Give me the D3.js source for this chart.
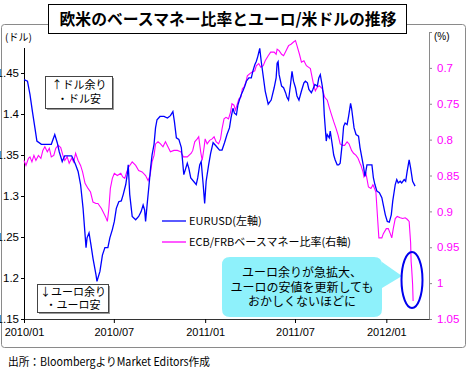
<!DOCTYPE html>
<html>
<head>
<meta charset="utf-8">
<script src="https://cdn.jsdelivr.net/npm/d3@7"></script>
<style>
  html, body { margin: 0; padding: 0; background: #fff; }
  svg { display: block; font-family: "Liberation Sans", "Noto Sans CJK JP", sans-serif; }
  .jp { font-family: "Noto Sans CJK JP", sans-serif; }
</style>
</head>
<body>
<div id="chart"></div>
<script>
(function () {
  const title = "欧米のベースマネー比率とユーロ/米ドルの推移";
  const source = "出所：BloombergよりMarket Editors作成";
  const seriesNames = ["EURUSD(左軸)", "ECB/FRBベースマネー比率(右軸)"];

  // the top ticks (1.5 / 0.65) carry no label in the original: the unit labels sit there
  const leftTicks = [1.15, 1.2, 1.25, 1.3, 1.35, 1.4, 1.45, 1.5];
  const rightTicks = [0.65, 0.7, 0.75, 0.8, 0.85, 0.9, 0.95, 1, 1.05];
  const hiddenTicks = [1.5, 0.65];
  const xTicks = ["2010-01-01", "2010-07-01", "2011-01-01", "2011-07-01", "2012-01-01"];
  const xTickLabels = ["2010/01", "2010/07", "2011/01", "2011/07", "2012/01"];

  // EURUSD, left axis
  const eurusd = [
    ["2010-01-01", 1.442], ["2010-01-08", 1.44], ["2010-01-13", 1.424], ["2010-01-18", 1.403], ["2010-01-23", 1.383],
    ["2010-01-27", 1.367], ["2010-02-05", 1.363], ["2010-02-25", 1.363], ["2010-03-04", 1.375], ["2010-03-09", 1.365],
    ["2010-03-13", 1.354], ["2010-03-19", 1.342], ["2010-03-24", 1.349], ["2010-04-07", 1.349], ["2010-04-11", 1.344],
    ["2010-04-15", 1.338], ["2010-04-20", 1.33], ["2010-04-25", 1.314], ["2010-04-30", 1.285], ["2010-05-06", 1.237],
    ["2010-05-08", 1.249], ["2010-05-12", 1.255], ["2010-05-16", 1.24], ["2010-05-20", 1.224], ["2010-05-26", 1.204],
    ["2010-05-28", 1.196], ["2010-06-03", 1.208], ["2010-06-08", 1.228], ["2010-06-13", 1.237], ["2010-06-19", 1.237],
    ["2010-06-23", 1.249], ["2010-06-28", 1.259], ["2010-07-02", 1.269], ["2010-07-06", 1.285], ["2010-07-11", 1.293],
    ["2010-07-16", 1.294], ["2010-07-20", 1.302], ["2010-07-25", 1.314], ["2010-07-28", 1.326], ["2010-07-30", 1.338],
    ["2010-08-02", 1.302], ["2010-08-07", 1.275], ["2010-08-14", 1.271], ["2010-08-20", 1.275], ["2010-08-25", 1.281],
    ["2010-08-29", 1.289], ["2010-09-01", 1.283], ["2010-09-03", 1.269], ["2010-09-06", 1.289], ["2010-09-10", 1.314],
    ["2010-09-13", 1.334], ["2010-09-16", 1.35], ["2010-09-20", 1.363], ["2010-09-23", 1.383], ["2010-09-26", 1.393],
    ["2010-10-02", 1.397], ["2010-10-10", 1.397], ["2010-10-17", 1.395], ["2010-10-23", 1.398], ["2010-10-28", 1.403],
    ["2010-10-31", 1.391], ["2010-11-04", 1.371], ["2010-11-09", 1.369], ["2010-11-14", 1.359], ["2010-11-16", 1.346],
    ["2010-11-19", 1.326], ["2010-11-23", 1.334], ["2010-11-26", 1.34], ["2010-11-29", 1.334], ["2010-12-03", 1.322],
    ["2010-12-14", 1.314], ["2010-12-17", 1.322], ["2010-12-21", 1.338], ["2010-12-24", 1.342], ["2010-12-28", 1.314],
    ["2010-12-31", 1.291], ["2011-01-03", 1.318], ["2011-01-08", 1.338], ["2011-01-12", 1.352], ["2011-01-17", 1.365],
    ["2011-01-23", 1.361], ["2011-01-30", 1.356], ["2011-02-04", 1.356], ["2011-02-09", 1.365], ["2011-02-14", 1.375],
    ["2011-02-19", 1.383], ["2011-02-22", 1.395], ["2011-02-26", 1.407], ["2011-03-01", 1.401], ["2011-03-05", 1.399],
    ["2011-03-08", 1.411], ["2011-03-11", 1.417], ["2011-03-15", 1.424], ["2011-03-18", 1.428], ["2011-03-22", 1.434],
    ["2011-03-25", 1.44], ["2011-03-30", 1.444], ["2011-04-04", 1.444], ["2011-04-07", 1.452], ["2011-04-11", 1.46],
    ["2011-04-14", 1.464], ["2011-04-17", 1.47], ["2011-04-21", 1.48], ["2011-04-24", 1.464], ["2011-04-28", 1.446],
    ["2011-05-02", 1.428], ["2011-05-08", 1.412], ["2011-05-14", 1.417], ["2011-05-20", 1.432], ["2011-05-24", 1.444],
    ["2011-05-26", 1.462], ["2011-05-28", 1.464], ["2011-05-30", 1.448], ["2011-06-04", 1.434], ["2011-06-08", 1.432],
    ["2011-06-12", 1.426], ["2011-06-15", 1.42], ["2011-06-18", 1.417], ["2011-06-22", 1.436], ["2011-06-25", 1.452],
    ["2011-06-28", 1.44], ["2011-07-02", 1.432], ["2011-07-05", 1.422], ["2011-07-09", 1.417], ["2011-07-14", 1.428],
    ["2011-07-19", 1.438], ["2011-07-22", 1.44], ["2011-07-26", 1.438], ["2011-07-29", 1.43], ["2011-08-03", 1.426],
    ["2011-08-06", 1.43], ["2011-08-10", 1.436], ["2011-08-15", 1.434], ["2011-08-18", 1.444], ["2011-08-21", 1.448],
    ["2011-08-25", 1.434], ["2011-08-27", 1.424], ["2011-08-29", 1.399], ["2011-08-31", 1.383], ["2011-09-02", 1.367],
    ["2011-09-04", 1.375], ["2011-09-08", 1.371], ["2011-09-10", 1.379], ["2011-09-14", 1.363], ["2011-09-17", 1.35],
    ["2011-09-20", 1.344], ["2011-09-24", 1.338], ["2011-09-27", 1.338], ["2011-09-30", 1.34], ["2011-10-04", 1.363],
    ["2011-10-07", 1.385], ["2011-10-10", 1.389], ["2011-10-14", 1.387], ["2011-10-17", 1.397], ["2011-10-21", 1.413],
    ["2011-10-23", 1.407], ["2011-10-28", 1.383], ["2011-11-01", 1.375], ["2011-11-06", 1.373], ["2011-11-09", 1.359],
    ["2011-11-13", 1.346], ["2011-11-16", 1.336], ["2011-11-19", 1.324], ["2011-11-23", 1.338], ["2011-11-28", 1.338],
    ["2011-12-03", 1.338], ["2011-12-06", 1.322], ["2011-12-09", 1.314], ["2011-12-13", 1.306], ["2011-12-18", 1.304],
    ["2011-12-23", 1.298], ["2011-12-26", 1.289], ["2011-12-30", 1.277], ["2012-01-03", 1.269], ["2012-01-07", 1.268],
    ["2012-01-11", 1.277], ["2012-01-14", 1.294], ["2012-01-19", 1.314], ["2012-01-22", 1.32], ["2012-01-25", 1.316],
    ["2012-01-29", 1.318], ["2012-02-01", 1.316], ["2012-02-06", 1.32], ["2012-02-09", 1.318], ["2012-02-12", 1.33],
    ["2012-02-16", 1.344], ["2012-02-19", 1.334], ["2012-02-23", 1.318], ["2012-02-28", 1.312]
  ];

  // ECB/FRB base money ratio, right axis (reversed)
  const baseRatio = [
    ["2010-01-01", 0.829], ["2010-01-05", 0.836], ["2010-01-10", 0.826], ["2010-01-13", 0.824], ["2010-01-17", 0.831],
    ["2010-01-21", 0.822], ["2010-01-25", 0.829], ["2010-01-30", 0.822], ["2010-02-04", 0.826], ["2010-02-08", 0.815],
    ["2010-02-12", 0.81], ["2010-02-17", 0.817], ["2010-02-21", 0.812], ["2010-02-25", 0.824], ["2010-03-02", 0.822],
    ["2010-03-06", 0.812], ["2010-03-11", 0.808], ["2010-03-16", 0.811], ["2010-03-20", 0.821], ["2010-03-24", 0.829],
    ["2010-03-29", 0.824], ["2010-04-02", 0.833], ["2010-04-07", 0.826], ["2010-04-11", 0.831], ["2010-04-15", 0.819],
    ["2010-04-20", 0.829], ["2010-04-25", 0.836], ["2010-04-29", 0.845], ["2010-05-04", 0.861], ["2010-05-10", 0.868],
    ["2010-05-15", 0.873], ["2010-05-20", 0.887], ["2010-05-26", 0.889], ["2010-05-30", 0.889], ["2010-06-06", 0.896],
    ["2010-06-11", 0.903], ["2010-06-14", 0.907], ["2010-06-18", 0.914], ["2010-06-21", 0.896], ["2010-06-24", 0.868],
    ["2010-06-28", 0.854], ["2010-07-02", 0.847], ["2010-07-08", 0.85], ["2010-07-15", 0.847], ["2010-07-19", 0.852],
    ["2010-07-23", 0.854], ["2010-07-27", 0.845], ["2010-07-31", 0.838], ["2010-08-07", 0.831], ["2010-08-14", 0.836],
    ["2010-08-20", 0.843], ["2010-08-27", 0.845], ["2010-09-03", 0.85], ["2010-09-08", 0.857], ["2010-09-12", 0.85],
    ["2010-09-16", 0.831], ["2010-09-20", 0.822], ["2010-09-23", 0.806], ["2010-09-28", 0.803], ["2010-10-03", 0.806],
    ["2010-10-08", 0.81], ["2010-10-13", 0.803], ["2010-10-18", 0.81], ["2010-10-23", 0.817], ["2010-10-30", 0.815],
    ["2010-11-06", 0.815], ["2010-11-13", 0.817], ["2010-11-18", 0.824], ["2010-11-26", 0.824], ["2010-12-04", 0.819],
    ["2010-12-07", 0.815], ["2010-12-11", 0.803], ["2010-12-16", 0.799], ["2010-12-19", 0.796], ["2010-12-23", 0.817],
    ["2010-12-26", 0.829], ["2010-12-30", 0.81], ["2011-01-01", 0.799], ["2011-01-05", 0.806], ["2011-01-10", 0.801],
    ["2011-01-15", 0.799], ["2011-01-19", 0.796], ["2011-01-23", 0.803], ["2011-01-28", 0.806], ["2011-02-01", 0.799],
    ["2011-02-04", 0.785], ["2011-02-08", 0.771], ["2011-02-12", 0.769], ["2011-02-17", 0.771], ["2011-02-21", 0.762],
    ["2011-02-24", 0.75], ["2011-02-28", 0.752], ["2011-03-03", 0.759], ["2011-03-07", 0.75], ["2011-03-10", 0.743],
    ["2011-03-14", 0.741], ["2011-03-17", 0.729], ["2011-03-20", 0.727], ["2011-03-24", 0.72], ["2011-03-27", 0.711],
    ["2011-04-01", 0.708], ["2011-04-05", 0.706], ["2011-04-11", 0.704], ["2011-04-14", 0.697], ["2011-04-19", 0.694],
    ["2011-04-23", 0.699], ["2011-04-28", 0.697], ["2011-05-02", 0.69], ["2011-05-08", 0.683], ["2011-05-13", 0.678],
    ["2011-05-20", 0.678], ["2011-05-24", 0.681], ["2011-05-26", 0.674], ["2011-05-30", 0.676], ["2011-06-04", 0.681],
    ["2011-06-08", 0.683], ["2011-06-13", 0.676], ["2011-06-18", 0.669], ["2011-06-23", 0.667], ["2011-06-28", 0.664],
    ["2011-07-02", 0.662], ["2011-07-05", 0.669], ["2011-07-10", 0.681], ["2011-07-14", 0.692], ["2011-07-19", 0.69],
    ["2011-07-24", 0.697], ["2011-07-28", 0.699], ["2011-08-01", 0.701], ["2011-08-05", 0.715], ["2011-08-08", 0.725],
    ["2011-08-11", 0.732], ["2011-08-15", 0.727], ["2011-08-19", 0.725], ["2011-08-25", 0.729], ["2011-08-30", 0.741],
    ["2011-09-04", 0.745], ["2011-09-08", 0.755], ["2011-09-12", 0.764], ["2011-09-17", 0.775], ["2011-09-22", 0.785],
    ["2011-09-26", 0.794], ["2011-09-30", 0.806], ["2011-10-05", 0.808], ["2011-10-09", 0.808], ["2011-10-14", 0.803],
    ["2011-10-18", 0.806], ["2011-10-23", 0.815], ["2011-10-27", 0.819], ["2011-11-01", 0.822], ["2011-11-05", 0.826],
    ["2011-11-09", 0.833], ["2011-11-11", 0.836], ["2011-11-15", 0.845], ["2011-11-17", 0.852], ["2011-11-21", 0.847],
    ["2011-11-26", 0.866], ["2011-12-01", 0.868], ["2011-12-05", 0.863], ["2011-12-07", 0.866], ["2011-12-11", 0.873],
    ["2011-12-14", 0.905], ["2011-12-17", 0.937], ["2011-12-23", 0.937], ["2011-12-26", 0.931], ["2012-01-01", 0.924],
    ["2012-01-05", 0.924], ["2012-01-09", 0.931], ["2012-01-12", 0.937], ["2012-01-15", 0.924], ["2012-01-19", 0.91],
    ["2012-01-23", 0.907], ["2012-01-29", 0.909], ["2012-02-03", 0.91], ["2012-02-08", 0.909], ["2012-02-12", 0.911],
    ["2012-02-16", 0.914], ["2012-02-19", 0.944], ["2012-02-20", 0.97], ["2012-02-21", 0.979], ["2012-02-23", 1.002],
    ["2012-02-24", 1.025]
  ];

  const upNote = ["↑ドル余り", "・ドル安"];
  const downNote = ["↓ユーロ余り", "・ユーロ安"];
  const calloutLines = ["ユーロ余りが急拡大、", "ユーロの安値を更新しても", "おかしくないほどに"];

  const width = 472;
  const height = 372;
  const plot = { left: 24, right: 429, top: 32, bottom: 319 };
  const parseDate = d3.timeParse("%Y-%m-%d");
  const fmt = (value) => hiddenTicks.includes(value) ? "" : String(+value.toFixed(2));

  const x = d3.scaleTime()
    .domain([parseDate("2010-01-01"), parseDate("2012-03-27")])
    .range([plot.left, plot.right]);
  const yLeft = d3.scaleLinear().domain([1.15, 1.5]).range([plot.bottom, plot.top]);
  const yRight = d3.scaleLinear().domain([0.65, 1.05]).range([plot.top, plot.bottom]);

  const svg = d3.select("#chart")
    .append("svg")
    .attr("width", width)
    .attr("height", height);

  // outer chart frame
  svg.append("rect")
    .attr("x", 1.5).attr("y", 24.5)
    .attr("width", 464).attr("height", 323)
    .attr("rx", 3)
    .attr("fill", "#fff")
    .attr("stroke", "#8a8a8a");

  // axes
  const leftAxis = svg.append("g")
    .attr("transform", `translate(${plot.left},0)`)
    .call(d3.axisLeft(yLeft).tickValues(leftTicks).tickFormat(fmt).tickSize(3).tickPadding(2));
  leftAxis.select(".domain").attr("stroke", "#000");
  leftAxis.selectAll("text").attr("font-size", 11.5).attr("fill", "#000");

  const rightAxis = svg.append("g")
    .attr("transform", `translate(${plot.right},0)`)
    .call(d3.axisRight(yRight).tickValues(rightTicks).tickFormat(fmt).tickSize(3).tickPadding(5));
  rightAxis.selectAll(".domain, line").attr("stroke", "#8a8a8a");
  rightAxis.selectAll("text").attr("font-size", 11.5).attr("fill", "#ff00ff");

  svg.selectAll(".tick text").filter(function () { return this.textContent === ""; }).remove();

  const bottomAxis = svg.append("g")
    .attr("transform", `translate(0,${plot.bottom})`)
    .call(d3.axisBottom(x)
      .tickValues(xTicks.map(parseDate))
      .tickFormat((d, i) => xTickLabels[i])
      .tickSize(4)
      .tickPadding(5)
      .tickSizeOuter(0));
  bottomAxis.select(".domain").attr("stroke", "#333");
  bottomAxis.selectAll("text").attr("font-size", 11).attr("fill", "#000");

  // axis unit labels; the left one hides the top of the axis line, like the original
  svg.append("rect").attr("x", 2).attr("y", 27).attr("width", 30).attr("height", 21).attr("fill", "#fff");
  svg.append("text").attr("class", "jp").attr("x", 5).attr("y", 41).attr("font-size", 10).text("(ドル)");
  svg.append("text").attr("x", 434).attr("y", 40).attr("font-size", 10).text("(%)");

  // series
  const line = (scale) => d3.line()
    .x((d) => x(parseDate(d[0])))
    .y((d) => scale(d[1]));

  svg.append("path")
    .datum(baseRatio)
    .attr("d", line(yRight))
    .attr("fill", "none")
    .attr("stroke", "#ff00ff")
    .attr("stroke-width", 1.1);

  svg.append("path")
    .datum(eurusd)
    .attr("d", line(yLeft))
    .attr("fill", "none")
    .attr("stroke", "#0000ff")
    .attr("stroke-width", 1.3);

  // legend
  const legendColors = ["#0000ff", "#ff00ff"];
  const legend = svg.append("g").attr("class", "jp");
  seriesNames.forEach((name, i) => {
    const y = 221 + i * 21;
    legend.append("line")
      .attr("x1", 162).attr("x2", 186)
      .attr("y1", y).attr("y2", y)
      .attr("stroke", legendColors[i])
      .attr("stroke-width", 1.3);
    legend.append("text")
      .attr("x", 189).attr("y", y + 4)
      .attr("font-size", 11)
      .text(name);
  });

  // note boxes
  function noteBox(x0, y0, w, h, lines, baseY) {
    const g = svg.append("g").attr("class", "jp");
    g.append("rect")
      .attr("x", x0 + 1.5).attr("y", y0 + 1.5)
      .attr("width", w).attr("height", h)
      .attr("fill", "#9a9a9a");
    g.append("rect")
      .attr("x", x0).attr("y", y0)
      .attr("width", w).attr("height", h)
      .attr("fill", "#fff")
      .attr("stroke", "#444");
    lines.forEach((text, i) => {
      g.append("text")
        .attr("x", x0 + w / 2).attr("y", baseY + i * 13.5)
        .attr("text-anchor", "middle")
        .attr("font-size", 11)
        .text(text);
    });
  }
  noteBox(45.5, 76.5, 67, 32, upNote, 89);
  noteBox(37.5, 284.5, 71, 28, downNote, 295.5);

  // callout bubble
  svg.append("path")
    .attr("d", "M230,257 H374 Q382,257 382,265 V262 L402,276 L382,288 V309 Q382,317 374,317 H230 Q222,317 222,309 V265 Q222,257 230,257 Z")
    .attr("fill", "#8ef1fb");
  const callout = svg.append("g").attr("class", "jp");
  calloutLines.forEach((text, i) => {
    callout.append("text")
      .attr("x", 302).attr("y", 277 + i * 14.5)
      .attr("text-anchor", "middle")
      .attr("font-size", 12)
      .text(text);
  });

  svg.append("ellipse")
    .attr("cx", 412).attr("cy", 280)
    .attr("rx", 10.5).attr("ry", 28)
    .attr("fill", "none")
    .attr("stroke", "#0000ee")
    .attr("stroke-width", 2);

  // title
  svg.append("rect")
    .attr("x", 48.5).attr("y", 4.5)
    .attr("width", 358).attr("height", 29)
    .attr("fill", "#fff")
    .attr("stroke", "#000");
  svg.append("text")
    .attr("class", "jp")
    .attr("x", 228).attr("y", 25)
    .attr("text-anchor", "middle")
    .attr("font-size", 16)
    .attr("font-weight", "bold")
    .attr("textLength", 337)
    .attr("lengthAdjust", "spacingAndGlyphs")
    .text(title);

  // source
  svg.append("text")
    .attr("class", "jp")
    .attr("x", 8).attr("y", 366)
    .attr("font-size", 11.5)
    .attr("textLength", 202)
    .attr("lengthAdjust", "spacingAndGlyphs")
    .text(source);
}());
</script>
</body>
</html>
